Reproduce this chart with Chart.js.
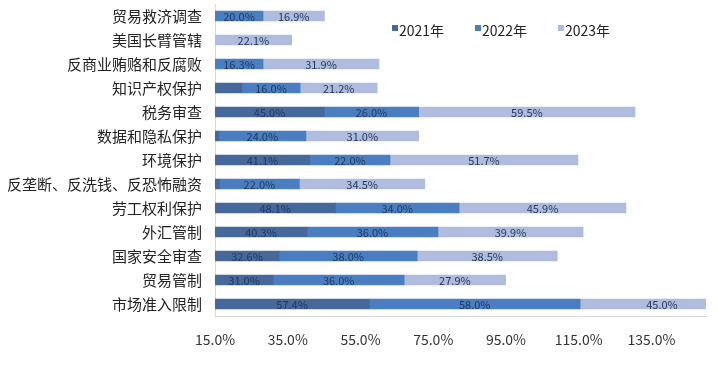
<!DOCTYPE html>
<html>
<head>
<meta charset="utf-8">
<script src="https://cdn.jsdelivr.net/npm/chart.js@4.4.0/dist/chart.umd.min.js"></script>
<style>
    body { margin: 0; background: #fff; }
    #wrap { width: 718px; height: 372px; }
</style>
</head>
<body>
<div id="wrap"><canvas id="barChart" width="718" height="372"></canvas></div>
<script>
// categories, top to bottom
const categories = ['贸易救济调查', '美国长臂管辖', '反商业贿赂和反腐败', '知识产权保护', '税务审查',
    '数据和隐私保护', '环境保护', '反垄断、反洗钱、反恐怖融资', '劳工权利保护', '外汇管制',
    '国家安全审查', '贸易管制', '市场准入限制'];

// series values (%)
const values2021 = [8.2, 6.5, 11.9, 22.4, 45.0, 16.0, 41.1, 16.2, 48.1, 40.3, 32.6, 31.0, 57.4];
const values2022 = [20.0, 7.5, 16.3, 16.0, 26.0, 24.0, 22.0, 22.0, 34.0, 36.0, 38.0, 36.0, 58.0];
const values2023 = [16.9, 22.1, 31.9, 21.2, 59.5, 31.0, 51.7, 34.5, 45.9, 39.9, 38.5, 27.9, 45.0];

const seriesNames = ['2021年', '2022年', '2023年'];
const seriesColors = ['#46689b', '#4a7ec0', '#afbcde'];

// x axis tick labels
const xTicks = [15, 35, 55, 75, 95, 115, 135];

const FONT = '"Noto Sans CJK SC", "Noto Sans", sans-serif';

// data labels, centered on the segment part that starts at the axis
const segmentLabels = {
    id: 'segmentLabels',
    afterDatasetsDraw(chart) {
        const ctx = chart.ctx;
        const area = chart.chartArea;
        ctx.save();
        ctx.font = '11px ' + FONT;
        ctx.fillStyle = '#22385e';
        ctx.textAlign = 'center';
        ctx.textBaseline = 'middle';
        chart.data.datasets.forEach((ds, i) => {
            const meta = chart.getDatasetMeta(i);
            meta.data.forEach((bar, j) => {
                const v = ds.data[j];
                if (v == null) return;
                const left = Math.max(Math.min(bar.x, bar.base), area.left);
                const right = Math.max(bar.x, bar.base);
                const visible = Math.min(right, area.right) - left;
                if (visible < 36) return;
                ctx.fillText(v.toFixed(1) + '%', (left + right) / 2, bar.y + 0.5);
            });
        });
        ctx.restore();
    }
};

// legend drawn inside the plot area
const insideLegend = {
    id: 'insideLegend',
    afterDraw(chart) {
        const ctx = chart.ctx;
        ctx.save();
        ctx.font = '14px ' + FONT;
        ctx.textBaseline = 'middle';
        ctx.textAlign = 'left';
        let x = 392;
        seriesNames.forEach((name, i) => {
            ctx.fillStyle = seriesColors[i];
            ctx.fillRect(x, 25, 6, 6);
            ctx.fillStyle = '#222';
            ctx.fillText(name, x + 7, 31);
            x += 83;
        });
        ctx.restore();
    }
};

new Chart('barChart', {
    type: 'bar',
    data: {
        labels: categories,
        datasets: [values2021, values2022, values2023].map((vals, i) => ({
            label: seriesNames[i],
            data: vals,
            backgroundColor: seriesColors[i],
            barThickness: 10
        }))
    },
    options: {
        indexAxis: 'y',
        responsive: false,
        animation: false,
        devicePixelRatio: 1,
        layout: { padding: { top: 4, right: 12, bottom: 0, left: 0 } },
        plugins: {
            legend: { display: false },
            tooltip: { enabled: false }
        },
        scales: {
            x: {
                stacked: true,
                min: 15,
                max: 150,
                grid: { display: false, drawTicks: false },
                border: { display: true, color: '#d9d9d9', width: 1 },
                afterBuildTicks: axis => { axis.ticks = xTicks.map(v => ({ value: v })); },
                afterFit: axis => {
                    axis.height = 56;
                    axis.paddingLeft = 0;
                    axis.paddingRight = 0;
                },
                ticks: {
                    autoSkip: false,
                    maxRotation: 0,
                    padding: 15,
                    color: '#333',
                    font: { size: 14, family: FONT },
                    callback: v => v.toFixed(1) + '%'
                }
            },
            y: {
                stacked: true,
                grid: { display: false, drawTicks: false },
                border: { display: true, color: '#d9d9d9', width: 1 },
                afterFit: axis => {
                    axis.width = 215;
                    axis.paddingTop = 0;
                    axis.paddingBottom = 0;
                },
                ticks: {
                    autoSkip: false,
                    padding: 13,
                    color: '#222',
                    font: { size: 15, family: FONT }
                }
            }
        }
    },
    plugins: [segmentLabels, insideLegend]
});
</script>
</body>
</html>
